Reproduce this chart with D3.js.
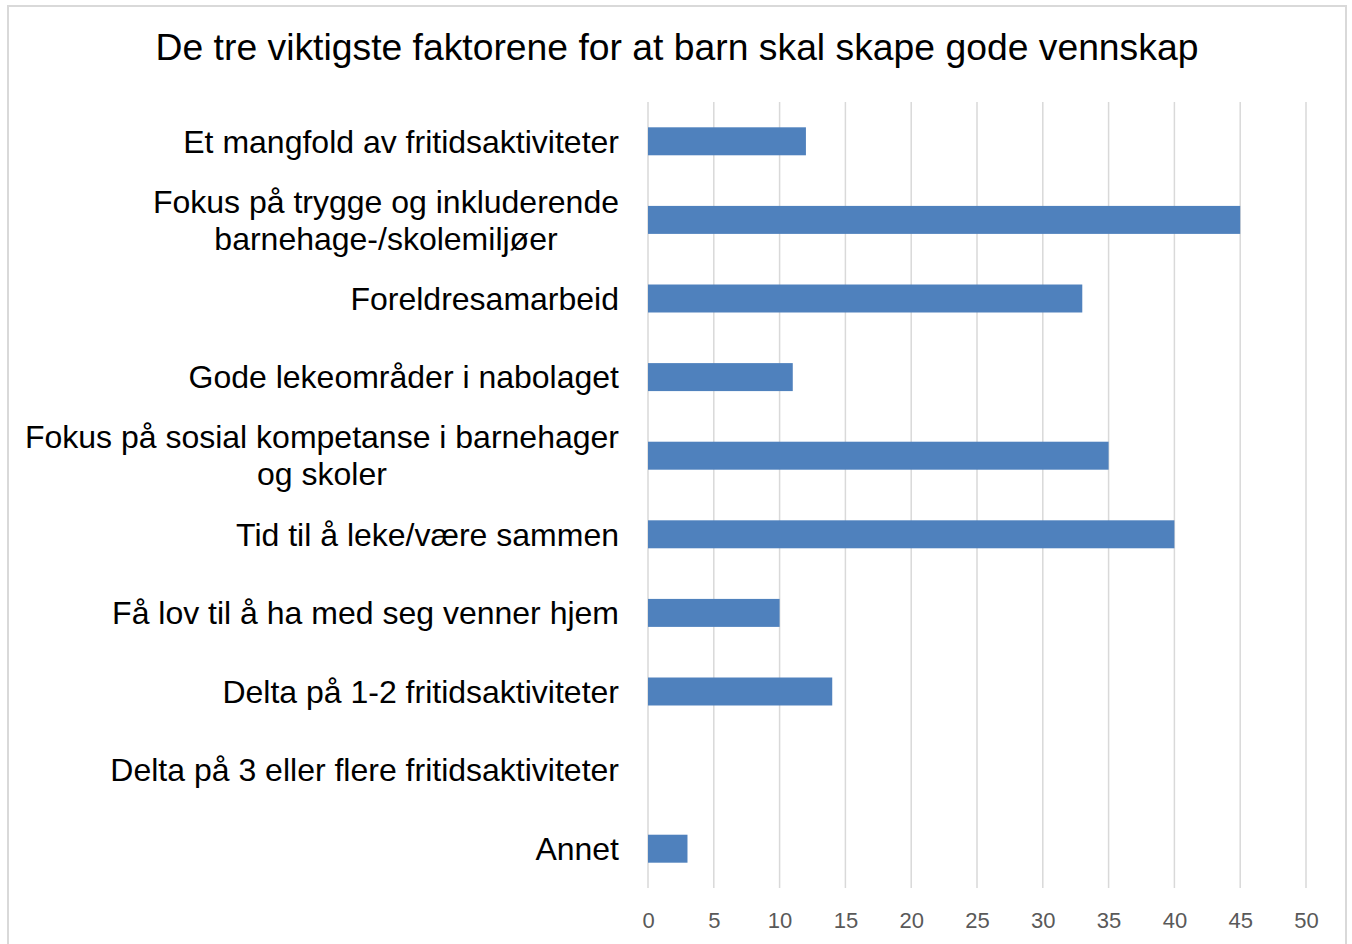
<!DOCTYPE html>
<html>
<head>
<meta charset="utf-8">
<script src="https://cdn.jsdelivr.net/npm/d3@7"></script>
<style>
  body { margin: 0; background: #fff; }
  svg { display: block; }
</style>
</head>
<body>
<svg id="chart"></svg>
<script>
const title = "De tre viktigste faktorene for at barn skal skape gode vennskap";

// each category can break into several lines
const categories = [
  ["Et mangfold av fritidsaktiviteter"],
  ["Fokus på trygge og inkluderende", "barnehage-/skolemiljøer"],
  ["Foreldresamarbeid"],
  ["Gode lekeområder i nabolaget"],
  ["Fokus på sosial kompetanse i barnehager", "og skoler"],
  ["Tid til å leke/være sammen"],
  ["Få lov til å ha med seg venner hjem"],
  ["Delta på 1-2 fritidsaktiviteter"],
  ["Delta på 3 eller flere fritidsaktiviteter"],
  ["Annet"]
];
const values = [12, 45, 33, 11, 35, 40, 10, 14, 0, 3];
const xTicks = [0, 5, 10, 15, 20, 25, 30, 35, 40, 45, 50];

const width = 1352, height = 944;
const plot = { left: 648, right: 1306, top: 102, bottom: 888 };
const labelRight = 619;

const svg = d3.select("#chart").attr("width", width).attr("height", height);

// outer border of the chart area
svg.append("rect")
  .attr("x", 8).attr("y", 6)
  .attr("width", 1338).attr("height", 950)
  .attr("fill", "#fff")
  .attr("stroke", "#d9d9d9")
  .attr("stroke-width", 2);

svg.append("text")
  .attr("x", 677)
  .attr("y", 60)
  .attr("text-anchor", "middle")
  .style("font-family", "Liberation Sans, Arial, sans-serif")
  .style("font-size", "37.3px")
  .style("fill", "#000")
  .text(title);

const xScale = d3.scaleLinear().domain([0, 50]).range([plot.left, plot.right]);
const yScale = d3.scaleBand()
  .domain(d3.range(categories.length))
  .range([plot.top, plot.bottom])
  .paddingInner(0.644)
  .paddingOuter(0.322);

// grid lines
svg.append("g")
  .selectAll("line")
  .data(xTicks)
  .enter()
  .append("line")
  .attr("x1", d => xScale(d))
  .attr("x2", d => xScale(d))
  .attr("y1", plot.top)
  .attr("y2", plot.bottom)
  .attr("stroke", "#d9d9d9")
  .attr("stroke-width", 1.5);

// x tick labels
const xAxis = d3.axisBottom(xScale).tickValues(xTicks).tickSize(0).tickPadding(0);
const xg = svg.append("g")
  .attr("transform", "translate(0," + 928 + ")")
  .call(xAxis);
xg.select(".domain").remove();
xg.selectAll("text")
  .attr("y", 0)
  .attr("dy", 0)
  .style("font-family", "Liberation Sans Narrow, Arial Narrow, sans-serif")
  .style("font-size", "22px")
  .style("fill", "#595959");

// bars
svg.append("g")
  .selectAll("rect")
  .data(values)
  .enter()
  .append("rect")
  .attr("x", xScale(0))
  .attr("y", (d, i) => yScale(i))
  .attr("width", d => xScale(d) - xScale(0))
  .attr("height", yScale.bandwidth())
  .attr("fill", "#4f81bd");

// category labels: block right aligned, lines centred on each other
const labelFont = "Liberation Sans, Arial, sans-serif";
const lineGap = 37;
const labels = svg.append("g");
categories.forEach((lines, i) => {
  const cy = yScale(i) + yScale.bandwidth() / 2;
  const t = labels.append("text")
    .style("font-family", labelFont)
    .style("font-size", "32px")
    .style("fill", "#000");
  lines.forEach((line, j) => {
    t.append("tspan")
      .attr("y", cy + (j - (lines.length - 1) / 2) * lineGap)
      .attr("dy", "0.35em")
      .text(line);
  });
  const tspans = t.selectAll("tspan").nodes();
  const maxW = d3.max(tspans, n => n.getComputedTextLength());
  t.attr("text-anchor", "middle");
  t.selectAll("tspan").attr("x", labelRight - maxW / 2);
});
</script>
</body>
</html>
